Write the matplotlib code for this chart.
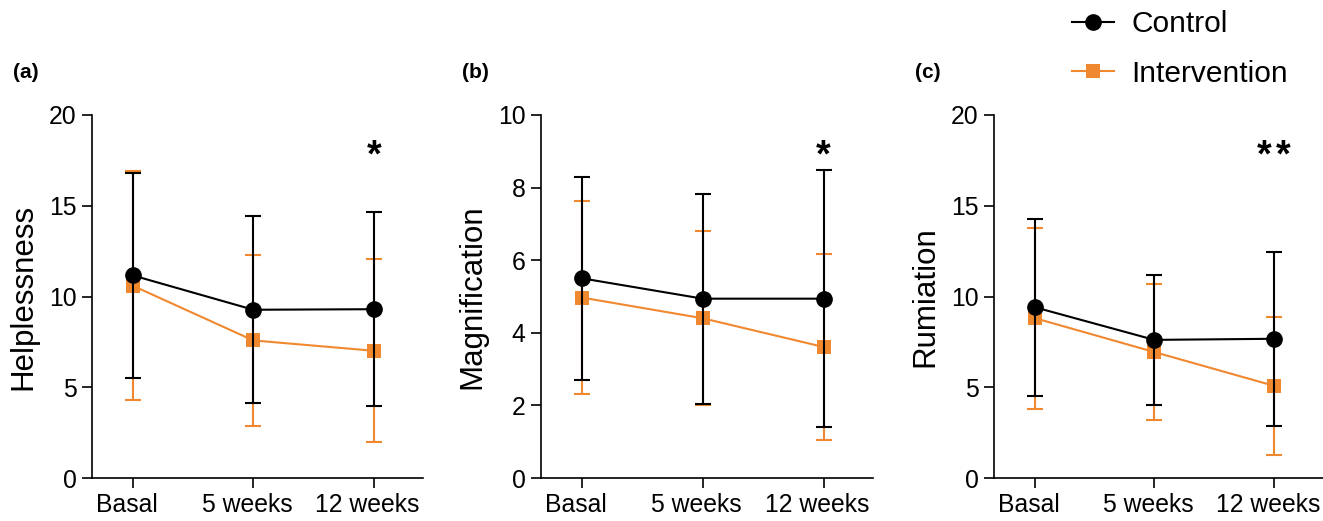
import matplotlib
matplotlib.use("Agg")
import matplotlib.pyplot as plt
from matplotlib.lines import Line2D
from matplotlib.transforms import ScaledTranslation

plt.rcParams['font.family'] = ['Liberation Sans', 'DejaVu Sans']

timepoints = ["Basal", "5 weeks", "12 weeks"]
groups = ["Control", "Intervention"]

helpless_control = [11.16, 9.27, 9.30]
helpless_control_sd = [5.65, 5.15, 5.35]
helpless_interv = [10.59, 7.58, 7.01]
helpless_interv_sd = [6.32, 4.70, 5.05]

magnif_control = [5.50, 4.94, 4.94]
magnif_control_sd = [2.80, 2.89, 3.54]
magnif_interv = [4.97, 4.40, 3.61]
magnif_interv_sd = [2.65, 2.40, 2.55]

rumin_control = [9.41, 7.61, 7.67]
rumin_control_sd = [4.88, 3.60, 4.78]
rumin_interv = [8.81, 6.94, 5.08]
rumin_interv_sd = [4.99, 3.76, 3.79]

ylabels = ["Helplessness", "Magnification", "Rumiation"]
panel_labels = ["(a)", "(b)", "(c)"]
ylims = [20, 10, 20]
yticks = [[0, 5, 10, 15, 20], [0, 2, 4, 6, 8, 10], [0, 5, 10, 15, 20]]
signif = ["*", "*", "**"]
signif_y = [17.7, 8.85, 17.7]

panels = [
    (helpless_control, helpless_control_sd, helpless_interv, helpless_interv_sd),
    (magnif_control, magnif_control_sd, magnif_interv, magnif_interv_sd),
    (rumin_control, rumin_control_sd, rumin_interv, rumin_interv_sd),
]

BLACK = "#000000"
ORANGE = "#F0882F"

W, H = 1323, 521
fig = plt.figure(figsize=(W / 100, H / 100), dpi=100)

lefts = [92, 541, 994]
widths = [331, 332, 329]
top_px, bot_px = 115, 478

x = list(range(len(timepoints)))
for i, (c, csd, iv, ivsd) in enumerate(panels):
    ax = fig.add_axes([lefts[i] / W, 1 - bot_px / H, widths[i] / W, (bot_px - top_px) / H])
    # Intervention
    ax.errorbar(x, iv, yerr=ivsd, fmt='none', ecolor=ORANGE,
                elinewidth=1.5, capsize=6, capthick=1.5, zorder=2)
    ax.plot(x, iv, color=ORANGE, marker="s", markersize=10, linewidth=1.5,
            markeredgewidth=0, zorder=2.5)
    # Control
    ax.errorbar(x, c, yerr=csd, fmt='none', ecolor=BLACK,
                elinewidth=1.5, capsize=6, capthick=1.5, zorder=3)
    ax.plot(x, c, color=BLACK, marker="o", markersize=11, linewidth=1.5, zorder=3.5)
    ax.set_xlim(-0.34, 2.41)
    ax.set_ylim(0, ylims[i])
    ax.set_yticks(yticks[i])
    ax.set_xticks(x)
    ax.set_xticklabels(timepoints)
    ax.spines['top'].set_visible(False)
    ax.spines['right'].set_visible(False)
    for s in ['left', 'bottom']:
        ax.spines[s].set_linewidth(1.2)
    ax.tick_params(axis='both', direction='out', length=7, width=1.2, labelsize=17.8, pad=4)
    shift = ScaledTranslation(-6 / 100, 0, fig.dpi_scale_trans)
    for lbl in ax.get_xticklabels():
        lbl.set_transform(lbl.get_transform() + shift)
    ax.set_ylabel(ylabels[i], fontsize=22.5, labelpad=8)
    n = len(signif[i])
    for k, ch in enumerate(signif[i]):
        off = ScaledTranslation((k - (n - 1) / 2) * 19 / 100, 0, fig.dpi_scale_trans)
        ax.text(2, signif_y[i], ch, ha='center', va='center', fontsize=27,
                fontweight='bold', transform=ax.transData + off)
    fig.text((lefts[i] - 79) / W, 1 - 72 / H, panel_labels[i], fontsize=15,
             fontweight='bold', ha='left', va='center')

handles = [
    Line2D([], [], color=BLACK, marker="o", markersize=11, linewidth=1.5),
    Line2D([], [], color=ORANGE, marker="s", markersize=10, linewidth=1.5, markeredgewidth=0),
]
fig.legend(handles, groups, loc='upper left', bbox_to_anchor=(1072 / W, 1 - 10 / H),
           frameon=False, fontsize=21.5, handlelength=1.4, handletextpad=0.6,
           labelspacing=0.72, borderpad=0, borderaxespad=0)

fig.savefig("out.png", dpi=100)
